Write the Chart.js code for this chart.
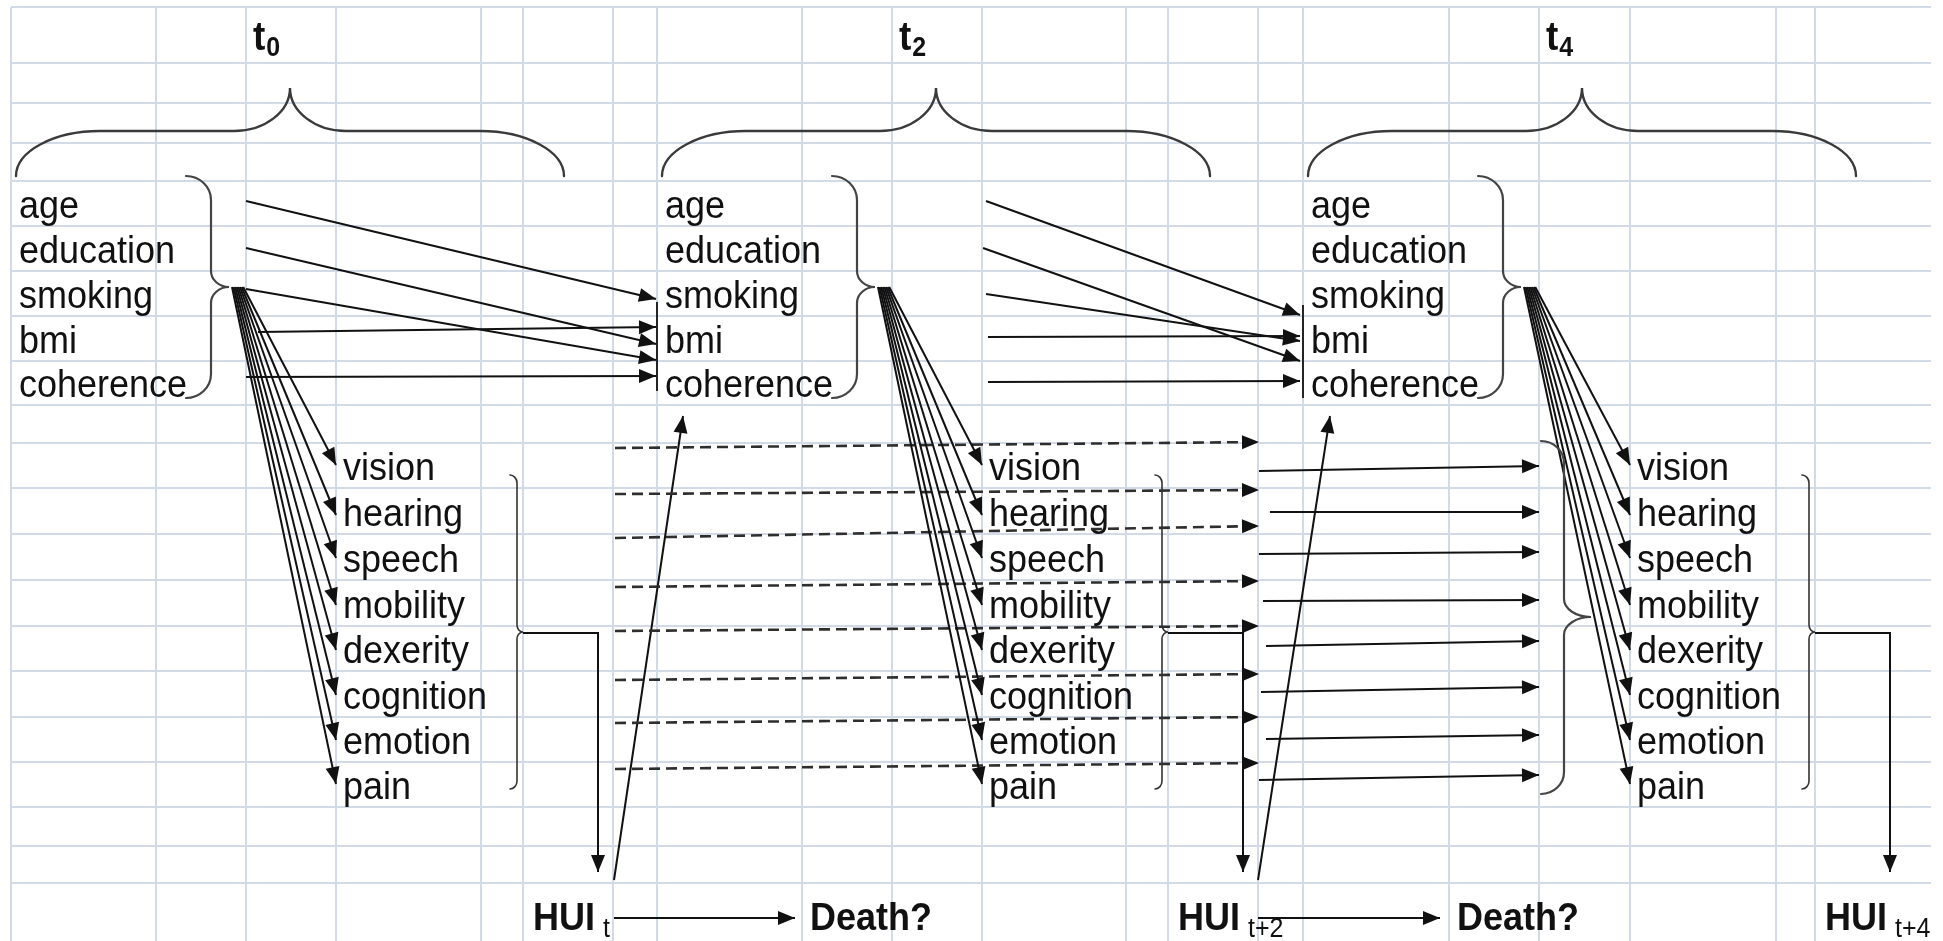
<!DOCTYPE html>
<html><head><meta charset="utf-8">
<script src="https://cdn.jsdelivr.net/npm/chart.js@4.4.1/dist/chart.umd.min.js"></script>
<style>html,body{margin:0;padding:0;background:#fff;overflow:hidden}#wrap{width:1943px;height:941px}</style>
</head><body><div id="wrap"><canvas id="c" width="1943" height="941"></canvas></div>
<script>
// ---- grid (spreadsheet column / row boundaries) ----
const colBounds = [11,156,246,336,481,523,613,657,802,892,982,1126,1168,1258,1303,1449,1539,1630,1776,1815];
const rowBounds = [7,63,103,143,181,226,271,316,361,405,443,488,534,580,626,671,717,762,807,846,883];
// ---- labels ----
const titleSubs = ['0','2','4'];
const covariates = ['age','education','smoking','bmi','coherence'];
const domains = ['vision','hearing','speech','mobility','dexerity','cognition','emotion','pain'];
const huiSubs = ['t','t+2','t+4'];
const deathLabel = 'Death?';
const blockCol = [0,7,14];
// ---- arrows ----
const covStartA = [[246,201],[246,248],[246,289],[258,332],[246,377]];
const covEndA   = [[656,299],[656,344],[656,360],[656,327],[656,376]];
const covStartB = [[986,201],[983,248],[986,294],[988,337],[988,382]];
const covEndB   = [[1300,315],[1300,361],[1300,341],[1300,336],[1300,381]];
const fanOriginX = [232,878,1524];
const fanOriginY = 287;
const fanTipY = [465,515,558,605,650,695,740,784];
const dashStartX = 615, dashEndX = 1259;
const dashStartY = [448,494,538,587,631,680,723,769];
const dashEndY   = [442,490,526,581,626,674,717,763];
const solidStart = [[1259,471],[1270,512],[1259,554],[1263,601],[1266,646],[1261,692],[1266,739],[1259,780]];
const solidEndX = 1539;
const solidEndY  = [466,512,552,600,641,687,735,775];
const huiUpStart = [[614,880],[1258,880]];
const huiUpEnd   = [[683,416],[1330,416]];
const deathStart = [[614,918],[1258,918]];
const deathEnd   = [[795,918],[1440,918]];
const elbowDX = 75, elbowY = 633, elbowEndY = 872;
const targetBars = [[657,302,391],[1303,305,398]];

const INK = '#111';
const datasets = [];
function arrow(pts, opts) {
  datasets.push(Object.assign({
    data: pts.map(p => ({x: p[0], y: p[1]})),
    showLine: true, borderColor: INK, borderWidth: 2, pointRadius: 0,
    fill: false, tension: 0, arrowHead: true
  }, opts || {}));
}
// covariate arrows
covStartA.forEach((s, i) => arrow([s, covEndA[i]]));
covStartB.forEach((s, i) => arrow([s, covEndB[i]]));
// fan arrows
blockCol.forEach((bc, b) => {
  domains.forEach((d, i) => {
    arrow([[fanOriginX[b] + (7 - i) * 1.6, fanOriginY], [colBounds[bc + 3], fanTipY[i]]]);
  });
});
// dashed arrows t0 -> t2
dashStartY.forEach((y, i) => arrow([[dashStartX, y], [dashEndX, dashEndY[i]]], {borderDash: [11, 6], borderColor: '#2e2e2e', borderWidth: 2.6}));
// solid arrows t2 -> t4
solidStart.forEach((s, i) => arrow([s, [solidEndX, solidEndY[i]]]));
// HUI -> next block, HUI -> death
huiUpStart.forEach((s, i) => arrow([s, huiUpEnd[i]]));
deathStart.forEach((s, i) => arrow([s, deathEnd[i]]));
// elbow connectors from domain brace to HUI
blockCol.forEach(bc => {
  const x0 = colBounds[bc + 5];
  arrow([[x0, elbowY], [x0 + elbowDX, elbowY], [x0 + elbowDX, elbowEndY]]);
});
// target bars
targetBars.forEach(t => arrow([[t[0], t[1]], [t[0], t[2]]], {arrowHead: false, borderWidth: 1.8}));

function P(chart, x, y) {
  return [chart.scales.x.getPixelForValue(x), chart.scales.y.getPixelForValue(y)];
}
function txt(ctx, s, x, y, font, sy) {
  ctx.save(); ctx.font = font; ctx.translate(x, y); ctx.scale(1, sy || 1.08);
  ctx.fillText(s, 0, 0); ctx.restore();
}
const F = '"Liberation Sans", Arial, sans-serif';

const textPlugin = {
  id: 'texts',
  beforeDatasetsDraw(chart) {
    const ctx = chart.ctx;
    ctx.save();
    ctx.fillStyle = INK; ctx.textAlign = 'left'; ctx.textBaseline = 'alphabetic';
    blockCol.forEach((bc, b) => {
      let [tx, ty] = P(chart, colBounds[bc + 2] + 7, 50);
      ctx.font = 'bold 37px ' + F;
      const tw = ctx.measureText('t').width;
      txt(ctx, 't', tx, ty, 'bold 37px ' + F);
      txt(ctx, titleSubs[b], tx + tw + 1, P(chart, 0, 56)[1], 'bold 25px ' + F);
      covariates.forEach((c, i) => {
        const [x, y] = P(chart, colBounds[bc] + 8, rowBounds[5 + i] - 8.5);
        txt(ctx, c, x, y, '36px ' + F);
      });
      domains.forEach((d, i) => {
        const [x, y] = P(chart, colBounds[bc + 3] + 7, rowBounds[11 + i] - 8.5);
        txt(ctx, d, x, y, '36px ' + F);
      });
      const [hx, hy] = P(chart, colBounds[bc + 5] + 10, 930);
      ctx.font = 'bold 36px ' + F;
      const hw = ctx.measureText('HUI').width;
      txt(ctx, 'HUI', hx, hy, 'bold 36px ' + F);
      txt(ctx, huiSubs[b], hx + hw + 8, P(chart, 0, 937)[1], '25px ' + F);
      if (b < 2) {
        const [dx, dy] = P(chart, colBounds[bc + 8] + 8, 930);
        txt(ctx, deathLabel, dx, dy, 'bold 36px ' + F);
      }
    });
    ctx.restore();
  },
  afterDatasetsDraw(chart) {
    const ctx = chart.ctx;
    ctx.save();
    chart.data.datasets.forEach((ds, i) => {
      if (!ds.arrowHead) return;
      const pts = chart.getDatasetMeta(i).data;
      const a = pts[pts.length - 2], e = pts[pts.length - 1];
      const ang = Math.atan2(e.y - a.y, e.x - a.x);
      const L = 17, W = 7;
      ctx.save();
      ctx.translate(e.x, e.y); ctx.rotate(ang);
      ctx.fillStyle = INK;
      ctx.beginPath(); ctx.moveTo(0, 0); ctx.lineTo(-L, -W); ctx.lineTo(-L, W); ctx.closePath(); ctx.fill();
      ctx.restore();
    });
    function topBrace(l, r, yEnd, yMid, yTip) {
      const t = (l + r) / 2, rx = 84, tr = 56;
      const p = (x, y) => P(chart, x, y);
      ctx.beginPath();
      ctx.moveTo(...p(l, yEnd));
      ctx.bezierCurveTo(...p(l, yEnd - (yEnd - yMid) * 0.55), ...p(l + rx * 0.45, yMid), ...p(l + rx, yMid));
      ctx.lineTo(...p(t - tr, yMid));
      ctx.bezierCurveTo(...p(t - tr * 0.45, yMid), ...p(t, yMid - (yMid - yTip) * 0.45), ...p(t, yTip));
      ctx.bezierCurveTo(...p(t, yMid - (yMid - yTip) * 0.45), ...p(t + tr * 0.45, yMid), ...p(t + tr, yMid));
      ctx.lineTo(...p(r - rx, yMid));
      ctx.bezierCurveTo(...p(r - rx * 0.45, yMid), ...p(r, yEnd - (yEnd - yMid) * 0.55), ...p(r, yEnd));
      ctx.stroke();
    }
    function sideBrace(xe, xm, xt, yt, ytip, yb, r, tr) {
      const p = (x, y) => P(chart, x, y);
      const k = 0.55;
      ctx.beginPath();
      ctx.moveTo(...p(xe, yt));
      ctx.bezierCurveTo(...p(xe + (xm - xe) * k, yt), ...p(xm, yt + r * (1 - k)), ...p(xm, yt + r));
      ctx.lineTo(...p(xm, ytip - tr));
      ctx.bezierCurveTo(...p(xm, ytip - tr * (1 - k)), ...p(xt - (xt - xm) * k, ytip), ...p(xt, ytip));
      ctx.bezierCurveTo(...p(xt - (xt - xm) * k, ytip), ...p(xm, ytip + tr * (1 - k)), ...p(xm, ytip + tr));
      ctx.lineTo(...p(xm, yb - r));
      ctx.bezierCurveTo(...p(xm, yb - r * (1 - k)), ...p(xe + (xm - xe) * k, yb), ...p(xe, yb));
      ctx.stroke();
    }
    ctx.lineCap = 'round';
    blockCol.forEach((bc, b) => {
      const l = colBounds[bc] + 5;
      ctx.strokeStyle = '#3a3a3a'; ctx.lineWidth = 2.4;
      topBrace(l, l + 548, 176, 131, 88);
      ctx.strokeStyle = '#444'; ctx.lineWidth = 2.2;
      const xe = colBounds[bc] + 175;
      sideBrace(xe, xe + 25, xe + 43, 176, 287, 398, 24, 16);
      ctx.strokeStyle = '#333'; ctx.lineWidth = 1.6;
      const xt = colBounds[bc + 5];
      sideBrace(xt - 13, xt - 6, xt, 475, 632, 789, 8, 7);
    });
    ctx.strokeStyle = '#444'; ctx.lineWidth = 2.2;
    sideBrace(1541, 1564, 1591, 441, 617, 794, 22, 18);
    ctx.restore();
  }
};

new Chart(document.getElementById('c'), {
  type: 'scatter',
  data: { datasets },
  options: {
    responsive: false, animation: false, events: [],
    layout: { padding: { left: 11, top: 7, right: 12, bottom: 0 } },
    plugins: { legend: { display: false }, tooltip: { enabled: false }, title: { display: false } },
    scales: {
      x: {
        type: 'linear', min: 11, max: 1931,
        ticks: { display: false }, border: { display: false },
        grid: { color: '#d3dae7', lineWidth: 2, drawTicks: false, tickLength: 0 },
        afterBuildTicks: s => { s.ticks = colBounds.map(v => ({ value: v })); },
        afterFit: s => { s.height = 0; }
      },
      y: {
        type: 'linear', min: 7, max: 941, reverse: true,
        ticks: { display: false }, border: { display: false },
        grid: { color: '#d3dae7', lineWidth: 2, drawTicks: false, tickLength: 0 },
        afterBuildTicks: s => { s.ticks = rowBounds.map(v => ({ value: v })); },
        afterFit: s => { s.width = 0; }
      }
    }
  },
  plugins: [textPlugin]
});
</script></body></html>
